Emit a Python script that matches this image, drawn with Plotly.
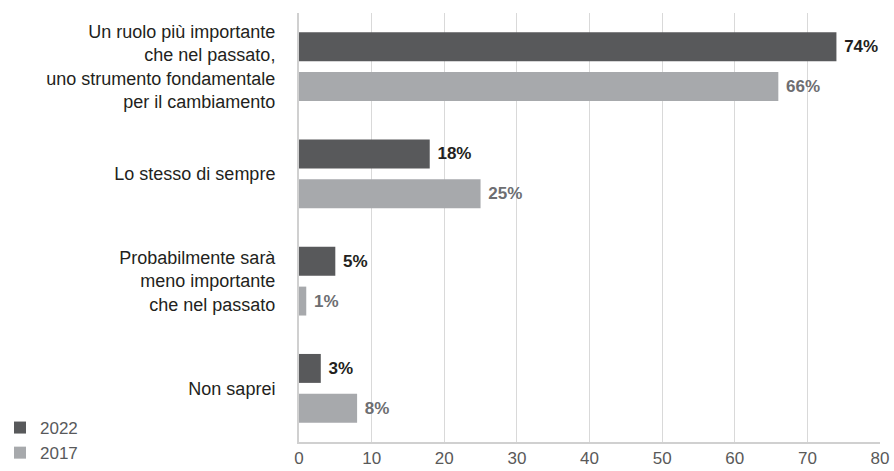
import plotly.graph_objects as go

categories = [
    "Un ruolo più importante<br>che nel passato,<br>uno strumento fondamentale<br>per il cambiamento",
    "Lo stesso di sempre",
    "Probabilmente sarà<br>meno importante<br>che nel passato",
    "Non saprei",
]
values_2022 = [74, 18, 5, 3]
values_2017 = [66, 25, 1, 8]
x_ticks = [0, 10, 20, 30, 40, 50, 60, 70, 80]

FONT = "Liberation Sans, Arial"

fig = go.Figure()
fig.add_trace(go.Bar(
    name="2022", y=categories, x=values_2022, orientation="h",
    marker=dict(color="#58595b", line=dict(width=0)),
    text=[f" {v}%" for v in values_2022], textposition="outside",
    textfont=dict(family=FONT, size=17, color="#231f20", weight="bold"),
    cliponaxis=False,
))
fig.add_trace(go.Bar(
    name="2017", y=categories, x=values_2017, orientation="h",
    marker=dict(color="#a7a9ac", line=dict(width=0)),
    text=[f" {v}%" for v in values_2017], textposition="outside",
    textfont=dict(family=FONT, size=17, color="#6d6e71", weight="bold"),
    cliponaxis=False,
))

fig.update_layout(
    width=894, height=471,
    margin=dict(l=299, r=14, t=13, b=29),
    barmode="group", bargap=0.256, bargroupgap=0.275,
    plot_bgcolor="white", paper_bgcolor="white",
    font=dict(family=FONT, size=18, color="#231f20"),
    showlegend=True,
    legend=dict(
        xref="container", yref="paper", x=0, y=-0.094,
        xanchor="left", yanchor="bottom", orientation="v",
        font=dict(size=17, color="#58595b"), tracegroupgap=0,
        bgcolor="rgba(0,0,0,0)",
    ),
)
fig.update_xaxes(
    range=[0, 80], tickvals=x_ticks, showgrid=True, gridcolor="#d9d9d9", gridwidth=1,
    zeroline=False, showline=True, linecolor="#d0d0d0", linewidth=2,
    tickfont=dict(size=17, color="#595959"), ticks="", ticklabelstandoff=0,
    automargin=False,
)
fig.update_yaxes(
    autorange="reversed", showgrid=False, showline=True, linecolor="#d0d0d0", linewidth=2,
    ticks="", ticklabelstandoff=18, tickfont=dict(size=18, color="#231f20"),
    automargin=False,
)

fig.write_html("out.html")
